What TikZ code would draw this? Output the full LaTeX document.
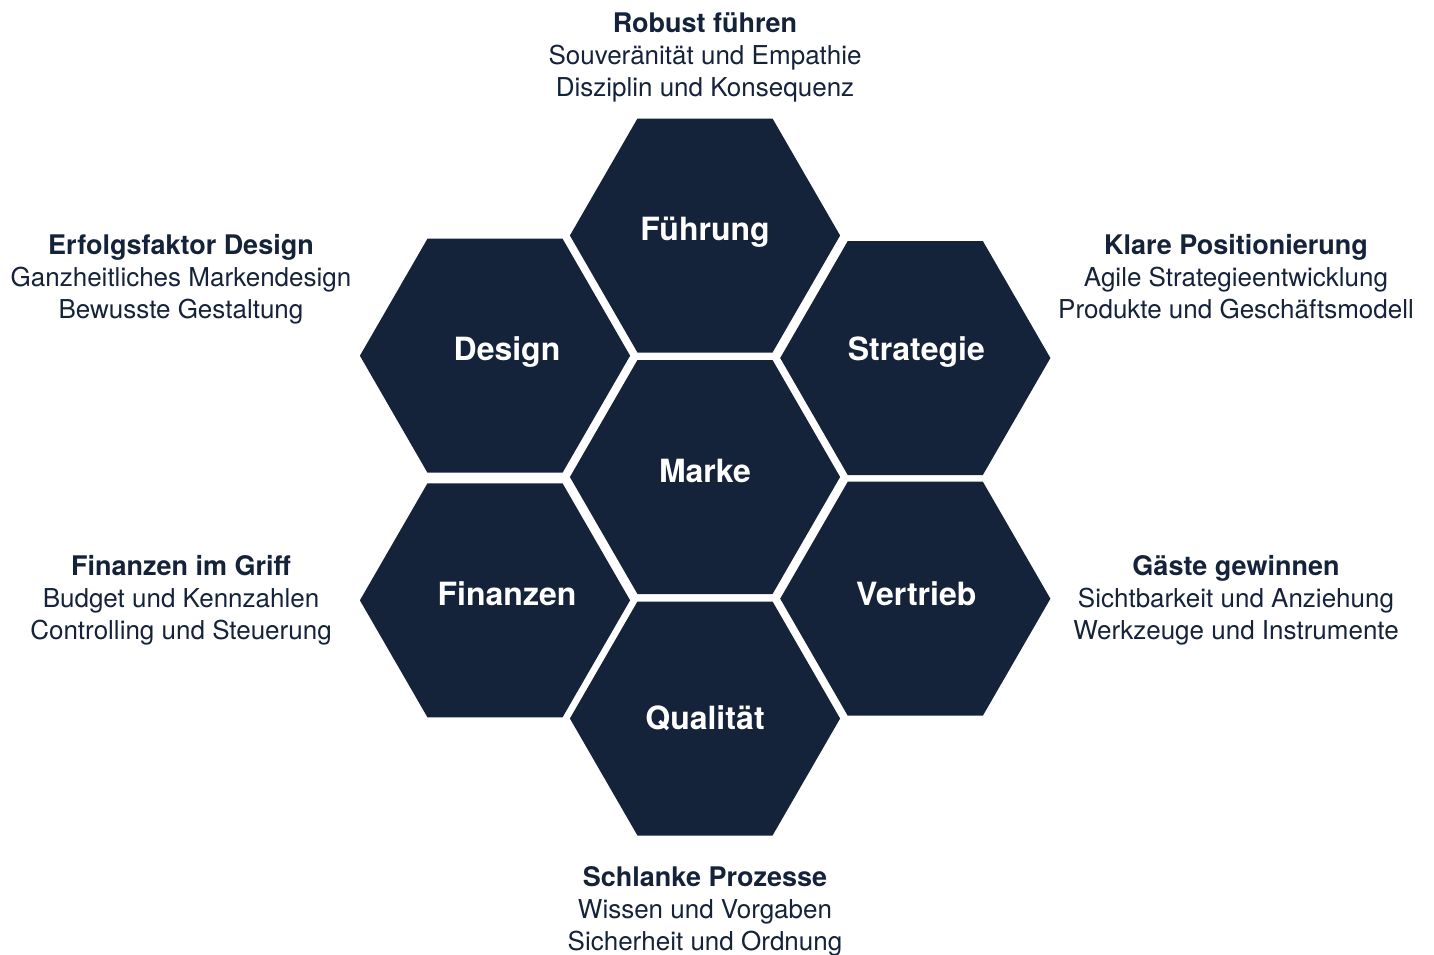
\documentclass[tikz,border=0pt]{standalone}
\usepackage{fontspec}
\setmainfont{TeX Gyre Heros}
\usetikzlibrary{shapes.geometric}
\definecolor{navy}{HTML}{15233A}
\tikzset{
  hex/.style={regular polygon, regular polygon sides=6, minimum size=270.2pt, inner sep=0pt, fill=navy, draw=none},
  hextext/.style={anchor=base, text=white, inner sep=0pt, font=\fontsize{32}{36}\selectfont\bfseries},
  lbl/.style={anchor=north, align=center, text=navy, inner sep=0pt, font=\fontsize{26}{32}\selectfont}
}
\newcommand{\lbltitle}[1]{{\fontsize{27}{32}\selectfont\bfseries #1}\strut}
\newcommand{\lblline}[1]{#1\strut}
\begin{document}
\begin{tikzpicture}[x=1pt,y=-1pt]
\useasboundingbox (0,0) rectangle (1434,954);
% hexagons
\node[hex] (fuehrung) at (705,235.5) {};
\node[hex] (marke) at (705,477) {};
\node[hex] (qualitaet) at (705,718.5) {};
\node[hex] (design) at (495,355.7) {};
\node[hex] (strategie) at (915.3,358) {};
\node[hex] (finanzen) at (495,600.3) {};
\node[hex] (vertrieb) at (915.3,598.7) {};
% hexagon texts
\node[hextext] (t-fuehrung) at ([yshift=-5pt]fuehrung.center) {Führung};
\node[hextext] (t-marke) at ([yshift=-5pt]marke.center) {Marke};
\node[hextext] (t-qualitaet) at ([yshift=-11pt]qualitaet.center) {Qualität};
\node[hextext] (t-design) at ([xshift=12pt,yshift=-5pt]design.center) {Design};
\node[hextext] (t-strategie) at ([xshift=1pt,yshift=-2pt]strategie.center) {Strategie};
\node[hextext] (t-finanzen) at ([xshift=12pt,yshift=-5.4pt]finanzen.center) {Finanzen};
\node[hextext] (t-vertrieb) at ([xshift=1pt,yshift=-7pt]vertrieb.center) {Vertrieb};
% labels
\node[lbl] (l-top) at (705,9.6) {\lbltitle{Robust führen}\\\lblline{Souveränität und Empathie}\\\lblline{Disziplin und Konsequenz}};
\node[lbl] (l-design) at (181,231.6) {\lbltitle{Erfolgsfaktor Design}\\\lblline{Ganzheitliches Markendesign}\\\lblline{Bewusste Gestaltung}};
\node[lbl] (l-strategie) at (1236,231.6) {\lbltitle{Klare Positionierung}\\\lblline{Agile Strategieentwicklung}\\\lblline{Produkte und Geschäftsmodell}};
\node[lbl] (l-finanzen) at (181,552.6) {\lbltitle{Finanzen im Griff}\\\lblline{Budget und Kennzahlen}\\\lblline{Controlling und Steuerung}};
\node[lbl] (l-vertrieb) at (1236,552.6) {\lbltitle{Gäste gewinnen}\\\lblline{Sichtbarkeit und Anziehung}\\\lblline{Werkzeuge und Instrumente}};
\node[lbl] (l-bottom) at (705,863.6) {\lbltitle{Schlanke Prozesse}\\\lblline{Wissen und Vorgaben}\\\lblline{Sicherheit und Ordnung}};
\end{tikzpicture}
\end{document}
